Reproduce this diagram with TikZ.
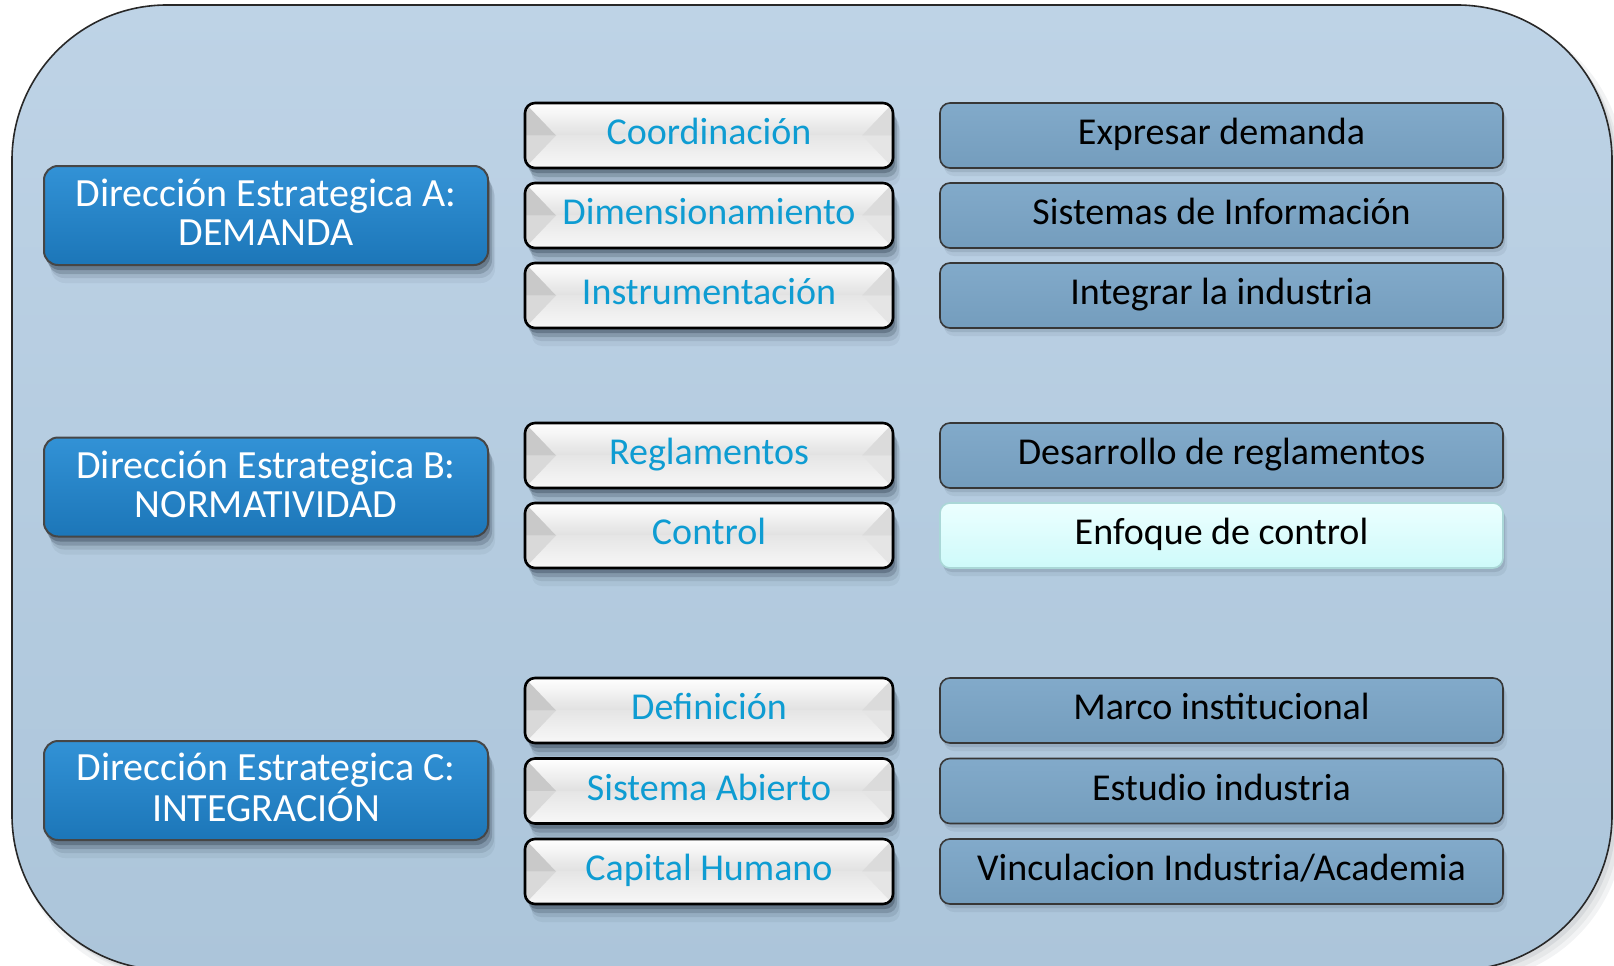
\documentclass[tikz,border=0pt]{standalone}
\usepackage{fontspec}
\setmainfont{Carlito}
\usetikzlibrary{shadows}
\definecolor{bgtop}{RGB}{190,211,230}
\definecolor{bgbot}{RGB}{172,197,218}
\definecolor{framecol}{RGB}{40,40,40}
\definecolor{dirtop}{RGB}{50,146,214}
\definecolor{dirbot}{RGB}{28,118,184}
\definecolor{dirdraw}{RGB}{70,70,70}
\definecolor{btntext}{RGB}{14,156,210}
\definecolor{rtop}{RGB}{130,170,202}
\definecolor{rbot}{RGB}{116,157,189}
\definecolor{rdraw}{RGB}{55,55,55}
\definecolor{shad}{RGB}{35,50,65}
\definecolor{cyantop}{RGB}{236,255,255}
\definecolor{cyanbot}{RGB}{206,250,250}
\definecolor{cyandraw}{RGB}{170,215,215}
\newcommand{\fsz}{\fontsize{38}{39}\selectfont}
\newcommand{\fszbig}{\fontsize{40}{39}\selectfont}
\begin{document}
\begin{tikzpicture}[x=1pt,y=-1pt,
  softshadow/.style={
    drop shadow={shadow xshift=2pt,shadow yshift=-5pt,opacity=.30,fill=shad},
    drop shadow={shadow xshift=4pt,shadow yshift=-9pt,opacity=.20,fill=shad},
    drop shadow={shadow xshift=6pt,shadow yshift=-13pt,opacity=.11,fill=shad},
    drop shadow={shadow xshift=7pt,shadow yshift=-18pt,opacity=.06,fill=shad}},
  lightshadow/.style={
    drop shadow={shadow xshift=2pt,shadow yshift=-4pt,opacity=.12,fill=shad},
    drop shadow={shadow xshift=4pt,shadow yshift=-8pt,opacity=.07,fill=shad}},
  onetext/.style={text height=30pt, text depth=12pt},
  dirbox/.style={draw=dirdraw, line width=2pt, rounded corners=14pt,
    top color=dirtop, bottom color=dirbot, text=white, font=\fszbig,
    align=center, minimum width=444pt, minimum height=99pt, inner sep=0pt,
    text depth=6pt, softshadow},
  btnbox/.style={draw=black, line width=2.6pt, rounded corners=10pt,
    text=btntext, font=\fsz, minimum width=368pt, minimum height=65pt,
    inner sep=0pt, onetext, softshadow,
    path picture={
      \begin{scope}[sharp corners]
      \fill[top color=white, bottom color=black!12]
        (path picture bounding box.north west) rectangle (path picture bounding box.east);
      \fill[top color=black!10, bottom color=black!3]
        (path picture bounding box.west) rectangle (path picture bounding box.south east);
      \fill[black!21] (path picture bounding box.north west)
        -- ([xshift=31pt]path picture bounding box.west) -- (path picture bounding box.west) -- cycle;
      \fill[black!15] (path picture bounding box.west)
        -- ([xshift=31pt]path picture bounding box.west) -- (path picture bounding box.south west) -- cycle;
      \fill[black!14] (path picture bounding box.north east)
        -- ([xshift=-31pt]path picture bounding box.east) -- (path picture bounding box.east) -- cycle;
      \fill[black!10] (path picture bounding box.east)
        -- ([xshift=-31pt]path picture bounding box.east) -- (path picture bounding box.south east) -- cycle;
      \end{scope}}},
  resbox/.style={draw=rdraw, line width=1.6pt, rounded corners=10pt,
    top color=rtop, bottom color=rbot, text=black, font=\fsz,
    minimum width=563pt, minimum height=65pt, inner sep=0pt, onetext, lightshadow},
  resboxlight/.style={resbox, draw=cyandraw, top color=cyantop, bottom color=cyanbot}
]
\useasboundingbox (0,0) rectangle (1614,966);
% outer frame with soft shadow
\fill[shad, opacity=.06, rounded corners=158pt] (16,12) rectangle (1624,982);
\fill[shad, opacity=.06, rounded corners=156pt] (19,14) rectangle (1620,978);
\fill[shad, opacity=.08, rounded corners=155pt] (15,9) rectangle (1616,974);
\draw[draw=framecol, line width=1.6pt, rounded corners=155pt,
  top color=bgtop, bottom color=bgbot] (12,5) rectangle (1612,970);

% left: strategic directions
\node[dirbox] (dA) at (266,215.5) {Dirección Estrategica A:\\DEMANDA};
\node[dirbox] (dB) at (266,487) {Dirección Estrategica B:\\NORMATIVIDAD};
\node[dirbox] (dC) at (266,790.5) {Dirección Estrategica C:\\INTEGRACIÓN};

% middle: buttons
\node[btnbox] (m1) at (709,135.5) {Coordinación};
\node[btnbox] (m2) at (709,215.5) {Dimensionamiento};
\node[btnbox] (m3) at (709,295.5) {Instrumentación};
\node[btnbox] (m4) at (709,455.5) {Reglamentos};
\node[btnbox] (m5) at (709,535.5) {Control};
\node[btnbox] (m6) at (709,710.5) {Definición};
\node[btnbox] (m7) at (709,791) {Sistema Abierto};
\node[btnbox] (m8) at (709,871.5) {Capital Humano};

% right: results
\node[resbox] (r1) at (1221.5,135.5) {Expresar demanda};
\node[resbox] (r2) at (1221.5,215.5) {Sistemas de Información};
\node[resbox] (r3) at (1221.5,295.5) {Integrar la industria};
\node[resbox] (r4) at (1221.5,455.5) {Desarrollo de reglamentos};
\node[resboxlight] (r5) at (1221.5,535.5) {Enfoque de control};
\node[resbox] (r6) at (1221.5,710.5) {Marco institucional};
\node[resbox] (r7) at (1221.5,791) {Estudio industria};
\node[resbox] (r8) at (1221.5,871.5) {Vinculacion Industria/Academia};
\end{tikzpicture}
\end{document}
